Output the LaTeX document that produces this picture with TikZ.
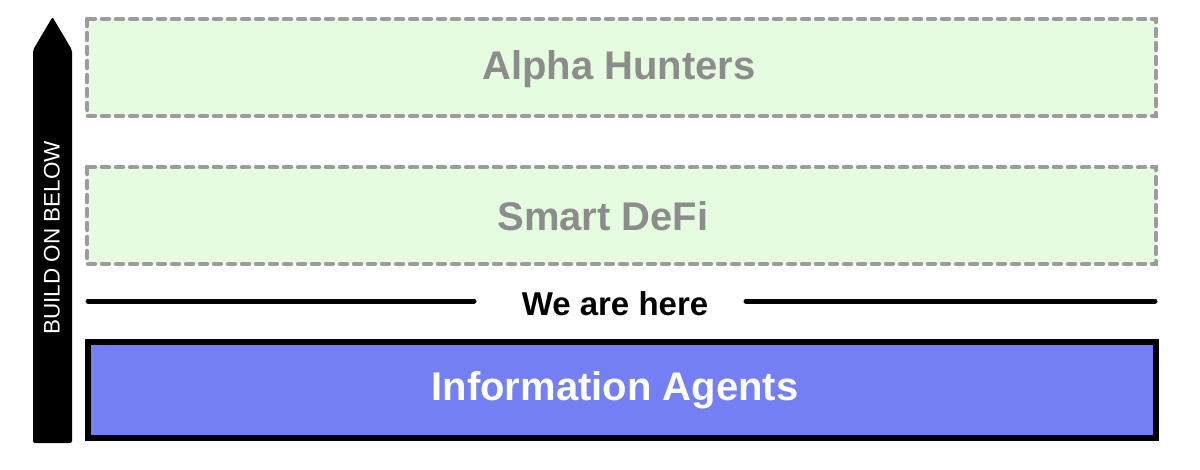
\documentclass[tikz,border=0pt]{standalone}
\usepackage{fontspec}
\setmainfont{Liberation Sans}
\definecolor{boxgreen}{HTML}{E6FCE0}
\definecolor{dashgray}{HTML}{9C9C9C}
\definecolor{txtgray}{HTML}{8C8C8C}
\definecolor{agentblue}{HTML}{737FF2}
\begin{document}
\begin{tikzpicture}[x=1pt,y=-1pt,
  futurebox/.style={draw=dashgray, fill=boxgreen, line width=4.5pt, line cap=round, dash pattern=on 7pt off 7pt},
  futuretext/.style={text=txtgray, font=\fontsize{40}{44}\selectfont\bfseries},
  herebox/.style={draw=black, fill=agentblue, line width=5.5pt},
  heretext/.style={text=white, font=\fontsize{40}{44}\selectfont\bfseries},
  sepline/.style={draw=black, line width=5pt, line cap=round}]
\useasboundingbox (0,0) rectangle (1200,469);
% arrow
\path[fill=black, rounded corners=2pt] (33,443) -- (33,50) -- (52.5,17) -- (72,50) -- (72,443) -- cycle;
\node[rotate=90, text=white, font=\fontsize{22.5}{26}\selectfont] (build) at (52,238) {BUILD ON BELOW};
% boxes
\draw[futurebox] (87,19) rectangle (1156,116);
\node[futuretext] (alpha) at (619,69) {Alpha Hunters};
\draw[futurebox] (87,167) rectangle (1156,264);
\node[futuretext] (defi) at (603,216) {Smart DeFi};
% we are here
\node[font=\fontsize{33}{36}\selectfont\bfseries] (here) at (615,304) {We are here};
\coordinate (l1) at (88,301);
\coordinate (l2) at (474,301);
\coordinate (r1) at (746,301);
\coordinate (r2) at (1155,301);
\draw[sepline] (l1) -- (l2);
\draw[sepline] (r1) -- (r2);
% info agents
\draw[herebox] (88,342) rectangle (1156,438);
\node[heretext] (info) at (615,390) {Information Agents};
\end{tikzpicture}
\end{document}
